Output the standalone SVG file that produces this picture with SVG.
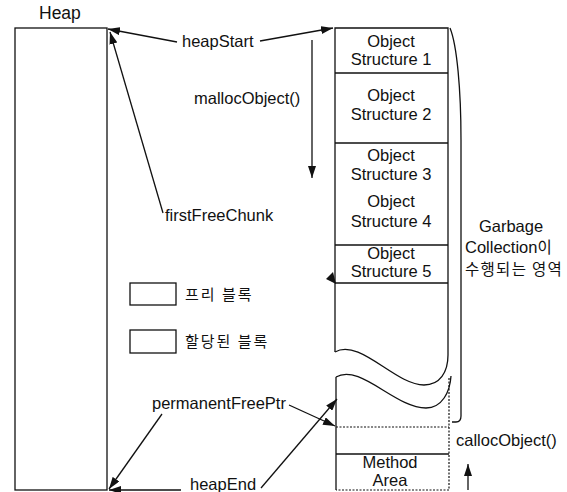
<svg xmlns="http://www.w3.org/2000/svg" width="567" height="492" viewBox="0 0 567 492">
<style>
text{font-family:"Liberation Sans","Noto Sans CJK KR",Arial,sans-serif;font-size:16.5px;fill:#111}
.k{font-family:"Noto Sans CJK KR","Liberation Sans",sans-serif;font-size:15px;letter-spacing:2px}
.g{font-family:"Noto Sans CJK KR","Liberation Sans",sans-serif;font-size:15.5px;letter-spacing:1.3px}
.c{text-anchor:middle}
.ln{fill:none;stroke:#111;stroke-width:1.3}
.dot{fill:none;stroke:#111;stroke-width:1.2;stroke-dasharray:2 1.5}
</style>
<defs>
<marker id="ah" viewBox="0 0 12 8" refX="12" refY="4" markerWidth="12" markerHeight="8" markerUnits="userSpaceOnUse" orient="auto">
<path d="M0,0 L12,4 L0,8 Z" fill="#111"/>
</marker>
</defs>
<rect width="567" height="492" fill="#fff"/>
<g id="heap">
<rect x="15" y="28" width="92" height="462" class="ln" stroke-width="1.5"/>
<text x="39" y="19" style="font-size:17.5px">Heap</text>
</g>
<g id="column">
<path class="ln" d="M448,355 L448,28 L335,28 L335,352"/>
<path class="ln" d="M335,352 C360,338 395,385 424,385 C440,385 448,372 448,355"/>
<path class="ln" d="M336,377 C360,363 395,408 426,408 C442,408 450,392 451,376"/>
<path class="ln" d="M336,377 L336,490"/>
<path class="dot" d="M449,378 L449,490 L336,490"/>
<line class="ln" x1="335" y1="73" x2="448" y2="73"/>
<line class="ln" x1="335" y1="143" x2="448" y2="143"/>
<line class="ln" x1="335" y1="245" x2="448" y2="245"/>
<line class="ln" x1="335" y1="283" x2="448" y2="283"/>
<line class="dot" x1="336" y1="427" x2="449" y2="427"/>
<line class="ln" x1="336" y1="454" x2="449" y2="454"/>
</g>
<g id="obj1"><text class="c" x="391" y="47">Object</text><text class="c" x="391" y="65">Structure 1</text></g>
<g id="obj2"><text class="c" x="391" y="101">Object</text><text class="c" x="391" y="120">Structure 2</text></g>
<g id="obj3"><text class="c" x="391" y="161">Object</text><text class="c" x="391" y="180">Structure 3</text></g>
<g id="obj4"><text class="c" x="391" y="207">Object</text><text class="c" x="391" y="227">Structure 4</text></g>
<g id="obj5"><text class="c" x="391" y="259">Object</text><text class="c" x="391" y="277">Structure 5</text></g>
<g id="method"><text class="c" x="390" y="468">Method</text><text class="c" x="390" y="486">Area</text></g>
<g id="gc-bracket">
<path class="ln" d="M450,28 C457,45 461,90 461,140 L461,416 C461,420 459,422 456,422 L452,422"/>
<text class="c" x="511" y="232">Garbage</text>
<text x="465" y="253">Collection<tspan class="g">이</tspan></text>
<text class="g" x="465" y="275">수행되는 영역</text>
</g>
<g id="legend">
<rect x="130" y="283" width="46" height="22" class="ln" stroke-width="1.2"/>
<text class="k" x="185" y="300">프리 블록</text>
<rect x="130" y="330" width="46" height="23" class="ln" stroke-width="1.2"/>
<text class="k" x="185" y="347">할당된 블록</text>
</g>
<g id="labels">
<text x="182" y="47">heapStart</text>
<text x="194" y="104">mallocObject()</text>
<text x="165" y="221">firstFreeChunk</text>
<text x="152" y="409">permanentFreePtr</text>
<text x="190" y="490">heapEnd</text>
<text x="456" y="446">callocObject()</text>
</g>
<g id="connectors">
<line class="ln" x1="177" y1="42" x2="108" y2="29" marker-end="url(#ah)"/>
<line class="ln" x1="260" y1="41" x2="333" y2="28" marker-end="url(#ah)"/>
<line class="ln" x1="312" y1="40" x2="312" y2="178" marker-end="url(#ah)"/>
<line class="ln" x1="163" y1="213" x2="110" y2="32" marker-end="url(#ah)"/>
<line class="ln" x1="162" y1="414" x2="109" y2="489" marker-end="url(#ah)"/>
<line class="ln" x1="289" y1="405" x2="335" y2="426" marker-end="url(#ah)"/>
<line class="ln" x1="181" y1="490" x2="109" y2="490" marker-end="url(#ah)"/>
<line class="ln" x1="261" y1="488" x2="337" y2="399" marker-end="url(#ah)"/>
<line class="ln" x1="468" y1="490" x2="468" y2="464" marker-end="url(#ah)"/>
<path d="M326,279 L333,272 L336,284 Z" fill="#111"/>
</g>
</svg>
